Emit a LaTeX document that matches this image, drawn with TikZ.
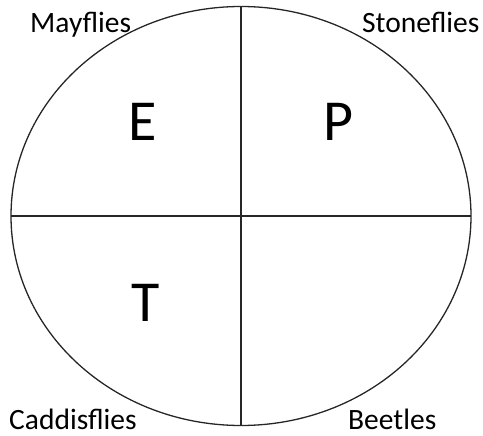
\documentclass[tikz,border=0pt]{standalone}
\usepackage{fontspec}
\setmainfont{Carlito}
\usetikzlibrary{positioning}

\begin{document}
\begin{tikzpicture}[
    x=1pt, y=-1pt,
    insect/.style={inner sep=0pt, anchor=base west, font=\fontsize{29.5}{31}\selectfont},
    letter/.style={inner sep=0pt, font=\fontsize{58}{60}\selectfont},
    divider/.style={draw=black!85, line width=1.3pt}
]
    \useasboundingbox (0,0) rectangle (483,436);

    % Outline and quadrants
    \coordinate (centre) at (241,216);
    \draw[divider] (centre) ellipse [x radius=230, y radius=209.5];
    \coordinate (top) at (241,6.5);
    \coordinate (bottom) at (241,425.5);
    \coordinate (left) at (11,216);
    \coordinate (right) at (471,216);
    \draw[divider] (top) -- (bottom);
    \draw[divider] (left) -- (right);

    % Letters
    \node[letter] (e) at (142.5,122) {E};
    \node[letter] (p) at (338.5,122) {P};
    \node[letter] (t) at (145.5,303) {T};

    % Orders
    \node[insect] (mayflies) at (30,33) {Mayflies};
    \node[insect] (stoneflies) at (362,33) {Stoneflies};
    \node[insect] (caddisflies) at (9,429) {Caddisflies};
    \node[insect] (beetles) at (348,429.5) {Beetles};
\end{tikzpicture}
\end{document}
